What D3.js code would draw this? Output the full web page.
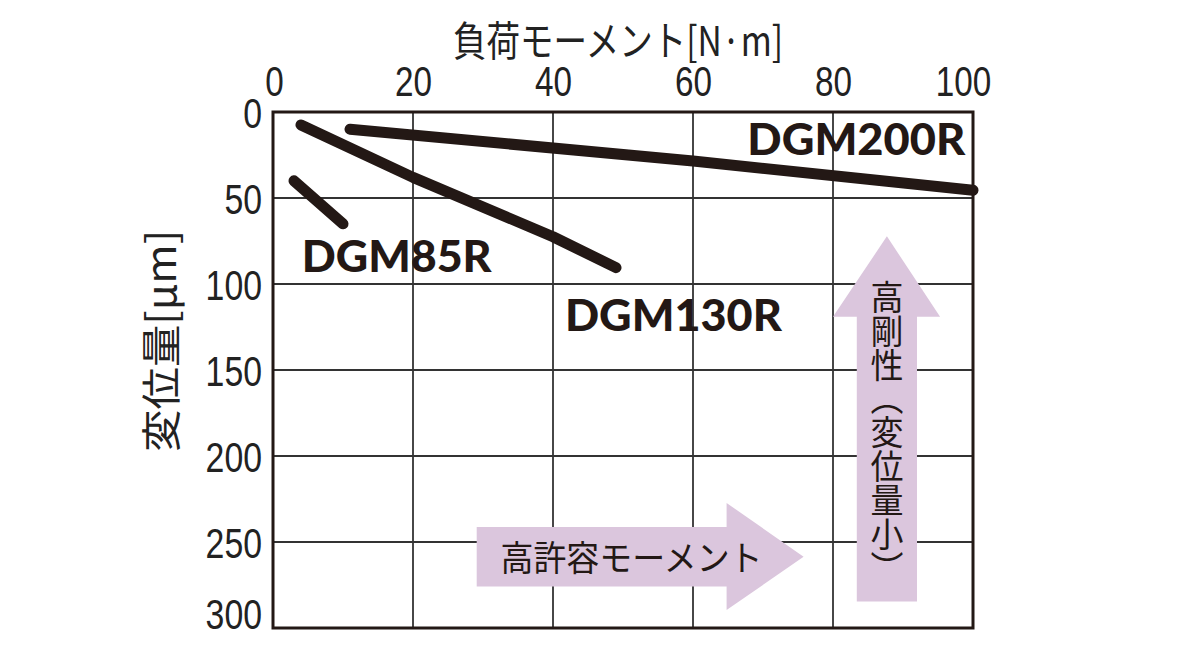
<!DOCTYPE html>
<html>
<head>
<meta charset="utf-8">
<script src="https://cdn.jsdelivr.net/npm/d3@7"></script>
<style>
  html, body { margin: 0; padding: 0; background: #fff; }
  svg { display: block; }
</style>
</head>
<body>
<svg id="chart" width="1184" height="666"></svg>
<script>
// Load moment (N·m) vs. displacement (μm) for each guide model
const momentTicks = [0, 20, 40, 60, 80, 100];
const dispTicks = [0, 50, 100, 150, 200, 250, 300];
const seriesNames = ["DGM85R", "DGM130R", "DGM200R"];
const dgm85Moment = [3, 10];
const dgm85Disp = [40, 65];
const dgm130Moment = [4, 20, 40, 49];
const dgm130Disp = [7.5, 38, 72.5, 90.5];
const dgm200Moment = [11, 60, 100];
const dgm200Disp = [10, 28.5, 45.5];

const xTitle = "負荷モーメント[N·m]";
const yTitle = "変位量[μm]";
const rightArrowText = "高許容モーメント";
const upArrowText = "高剛性（変位量小）";

const ink = "#231815";
const lilac = "#dbc6dd";

const svg = d3.select("#chart");
const plotLeft = 273, plotRight = 973, plotTop = 112, plotBottom = 628;

const x = d3.scaleLinear().domain([0, 100]).range([plotLeft, plotRight]);
const y = d3.scaleLinear().domain([0, 300]).range([plotTop, plotBottom]);

// grid
const grid = svg.append("g");
grid.selectAll("line.v").data(momentTicks.slice(1, -1)).join("line")
  .attr("x1", d => x(d)).attr("x2", d => x(d))
  .attr("y1", plotTop).attr("y2", plotBottom)
  .attr("stroke", "#333").attr("stroke-width", 1.8);
grid.selectAll("line.h").data(dispTicks.slice(1, -1)).join("line")
  .attr("x1", plotLeft).attr("x2", plotRight)
  .attr("y1", d => y(d)).attr("y2", d => y(d))
  .attr("stroke", "#333").attr("stroke-width", 1.8);

// frame
svg.append("rect")
  .attr("x", plotLeft).attr("y", plotTop)
  .attr("width", plotRight - plotLeft).attr("height", plotBottom - plotTop)
  .attr("fill", "none").attr("stroke", ink).attr("stroke-width", 3);

// top axis labels (condensed digits)
const numFont = "'Liberation Sans', Arial, sans-serif";
const topAxis = d3.axisTop(x).tickValues(momentTicks).tickSize(0).tickPadding(0);
const gTop = svg.append("g").attr("transform", `translate(0,${plotTop})`).call(topAxis);
gTop.select(".domain").remove();
gTop.selectAll("text")
  .attr("y", 96 - plotTop).attr("dy", 0)
  .attr("font-family", numFont).attr("font-size", 42).attr("fill", "#222")
  .attr("textLength", d => String(d).length * 18.5)
  .attr("lengthAdjust", "spacingAndGlyphs")
  .attr("dx", d => d === 100 ? -10 : (d === 0 ? 1 : 0));

const leftAxis = d3.axisLeft(y).tickValues(dispTicks).tickSize(0).tickPadding(11);
const gLeft = svg.append("g").attr("transform", `translate(${plotLeft},0)`).call(leftAxis);
gLeft.select(".domain").remove();
gLeft.selectAll("text")
  .attr("font-family", numFont).attr("font-size", 42).attr("fill", "#222")
  .attr("dy", d => d === 300 ? "0.02em" : "0.36em")
  .attr("textLength", d => String(d).length * 18.8)
  .attr("lengthAdjust", "spacingAndGlyphs");

// axis titles
const cjk = "'Noto Sans CJK JP', 'Noto Sans', sans-serif";
svg.append("text")
  .attr("x", 618).attr("y", 56)
  .attr("text-anchor", "middle")
  .attr("font-family", cjk).attr("font-size", 41).attr("fill", "#222")
  .attr("textLength", 330).attr("lengthAdjust", "spacingAndGlyphs")
  .text(xTitle);
svg.append("text")
  .attr("transform", "translate(176,341) rotate(-90)")
  .attr("text-anchor", "middle")
  .attr("font-family", cjk).attr("font-size", 40).attr("fill", "#222")
  .attr("textLength", 222).attr("lengthAdjust", "spacingAndGlyphs")
  .text(yTitle);

// annotation arrows
const rightArrow = [
  [x(29.1), y(241.3)], [x(64.8), y(241.3)], [x(64.8), y(227.3)],
  [x(75.8), y(258.6)], [x(64.8), y(289.5)], [x(64.8), y(275.9)],
  [x(29.1), y(275.9)]
];
svg.append("path")
  .attr("d", d3.line()(rightArrow) + "Z")
  .attr("fill", lilac);
svg.append("text")
  .attr("x", x(32.5)).attr("y", 571)
  .attr("font-family", cjk).attr("font-size", 35).attr("fill", ink)
  .attr("textLength", 262).attr("lengthAdjust", "spacingAndGlyphs")
  .text(rightArrowText);

const upArrow = [
  [x(83.4), y(284.6)], [x(83.4), y(119)], [x(80.0), y(119)],
  [x(87.7), y(72.3)], [x(95.3), y(119)], [x(92.0), y(119)],
  [x(92.0), y(284.6)]
];
svg.append("path")
  .attr("d", d3.line()(upArrow) + "Z")
  .attr("fill", lilac);
svg.append("text")
  .attr("x", x(87.7)).attr("y", 280)
  .attr("font-family", cjk).attr("font-size", 33).attr("fill", ink)
  .style("writing-mode", "vertical-rl")
  .attr("textLength", 305).attr("lengthAdjust", "spacingAndGlyphs")
  .text(upArrowText);

// series lines
const line = d3.line().x(d => x(d[0])).y(d => y(d[1]));
const series = [
  d3.zip(dgm85Moment, dgm85Disp),
  d3.zip(dgm130Moment, dgm130Disp),
  d3.zip(dgm200Moment, dgm200Disp)
];
svg.append("g").selectAll("path").data(series).join("path")
  .attr("d", line)
  .attr("fill", "none").attr("stroke", ink)
  .attr("stroke-width", 11).attr("stroke-linecap", "round")
  .attr("stroke-linejoin", "round");

// series labels
const labelFont = "Lato, 'Open Sans', sans-serif";
const labels = [
  { name: seriesNames[0], mx: 4.1, dy: 93, anchor: "start", len: 190 },
  { name: seriesNames[1], mx: 41.7, dy: 127.3, anchor: "start", len: 217 },
  { name: seriesNames[2], mx: 98.9, dy: 24.9, anchor: "end", len: 218 }
];
svg.append("g").selectAll("text").data(labels).join("text")
  .attr("x", d => x(d.mx)).attr("y", d => y(d.dy))
  .attr("text-anchor", d => d.anchor)
  .attr("font-family", labelFont).attr("font-weight", 900)
  .attr("font-size", 44).attr("fill", ink)
  .attr("textLength", d => d.len).attr("lengthAdjust", "spacingAndGlyphs")
  .text(d => d.name);
</script>
</body>
</html>
